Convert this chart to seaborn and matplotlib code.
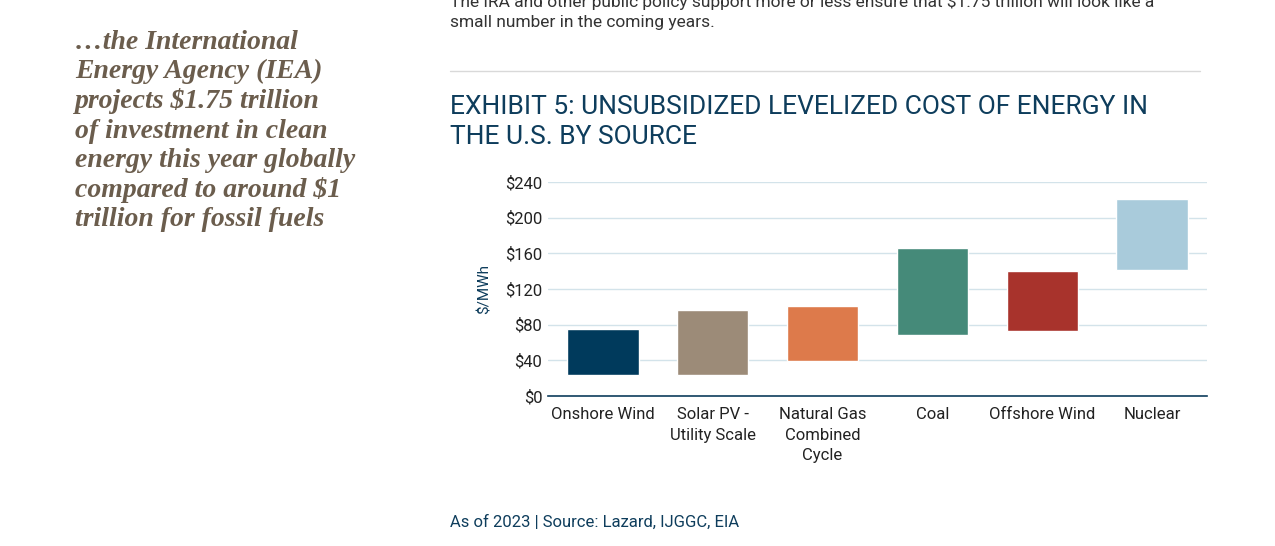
import matplotlib
matplotlib.use("Agg")
import matplotlib.pyplot as plt
import seaborn as sns
import pandas as pd

categories = ["Onshore Wind", "Solar PV -\nUtility Scale", "Natural Gas\nCombined\nCycle", "Coal", "Offshore Wind", "Nuclear"]
low = [24, 24, 39, 68, 73, 141]
high = [75, 96, 101, 166, 140, 221]
colors = ["#003a5c", "#9c8b78", "#dd7a4b", "#458a79", "#a8332c", "#a9cbdb"]
yticks = [0, 40, 80, 120, 160, 200, 240]

sns.set_theme(style="white")
plt.rcParams['font.family'] = ['Roboto', 'DejaVu Sans']

df = pd.DataFrame({"cat": categories, "high": high})

fig = plt.figure(figsize=(12.75, 5.46), dpi=100)
ax = fig.add_axes([548/1275, 1-396/546, (1207-548)/1275, (396-182)/546])
sns.barplot(data=df, x="cat", y="high", hue="cat", palette=colors,
            width=0.65, ax=ax, legend=False, saturation=1)
# floating bars: move each bar's base to its low value
for patch, lo, hi in zip(ax.patches, low, high):
    patch.set_y(lo)
    patch.set_height(hi - lo)
ax.set_ylim(0, 240)
ax.set_yticks(yticks)
ax.set_yticklabels([f"${v}" for v in yticks], fontsize=12, color="#222222")
ax.tick_params(axis="x", labelsize=12, colors="#222222", length=0, pad=8)
for t in ax.get_xticklabels():
    t.set_linespacing(1.45)
ax.tick_params(axis="y", length=0, pad=4)
ax.yaxis.grid(True, color="#d3e3ea", linewidth=1)
ax.set_axisbelow(True)
for s in ["top", "right", "left"]:
    ax.spines[s].set_visible(False)
ax.spines["bottom"].set_color("#0e3d5c")
ax.spines["bottom"].set_linewidth(1.2)
ax.set_xlabel("")
ax.set_ylabel("$/MWh", fontsize=11, color="#0e3d5c", labelpad=10)

fig.text(450/1275, 1-1/546, "The IRA and other public policy support more or less ensure that $1.75 trillion will look like a",
         fontsize=12.5, color="#333333", va="center")
fig.text(450/1275, 1-23/546, "small number in the coming years.", fontsize=12.5, color="#333333", va="center")
fig.add_artist(plt.Line2D([450/1275, 1200/1275], [1-71/546, 1-71/546], color="#d9d9d9", lw=1))
fig.text(450/1275, 1-122/546, "EXHIBIT 5: UNSUBSIDIZED LEVELIZED COST OF ENERGY IN\nTHE U.S. BY SOURCE",
         fontsize=19, color="#0e3d5c", va="center", linespacing=1.3)
fig.text(450/1275, 1-522/546, "As of 2023 | Source: Lazard, IJGGC, EIA", fontsize=12, color="#0e3d5c", va="center")
fig.text(75/1275, 1-131/546,
         "…the International\nEnergy Agency (IEA)\nprojects $1.75 trillion\nof investment in clean\nenergy this year globally\ncompared to around $1\ntrillion for fossil fuels",
         fontsize=20, color="#6b5d4d", va="center", family=["Liberation Serif", "DejaVu Serif"], style="italic",
         fontweight="bold", linespacing=1.22)

fig.savefig("out.png", dpi=100)
